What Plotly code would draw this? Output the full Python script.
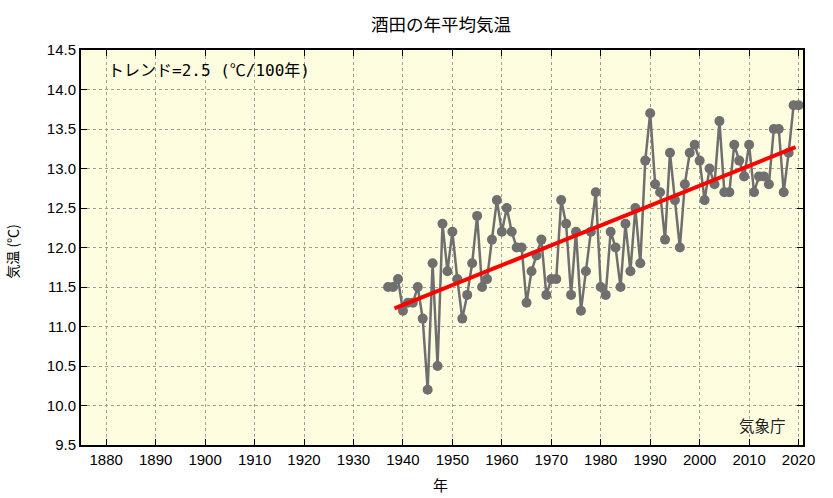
import plotly.graph_objects as go

years = list(range(1937, 2021))
temps = [11.5, 11.5, 11.6, 11.2, 11.3, 11.3, 11.5, 11.1, 10.2, 11.8,
         10.5, 12.3, 11.7, 12.2, 11.6, 11.1, 11.4, 11.8, 12.4, 11.5,
         11.6, 12.1, 12.6, 12.2, 12.5, 12.2, 12.0, 12.0, 11.3, 11.7,
         11.9, 12.1, 11.4, 11.6, 11.6, 12.6, 12.3, 11.4, 12.2, 11.2,
         11.7, 12.2, 12.7, 11.5, 11.4, 12.2, 12.0, 11.5, 12.3, 11.7,
         12.5, 11.8, 13.1, 13.7, 12.8, 12.7, 12.1, 13.2, 12.6, 12.0,
         12.8, 13.2, 13.3, 13.1, 12.6, 13.0, 12.8, 13.6, 12.7, 12.7,
         13.3, 13.1, 12.9, 13.3, 12.7, 12.9, 12.9, 12.8, 13.5, 13.5,
         12.7, 13.2, 13.8, 13.8]

trend_years = [1938.3, 2019.4]
trend_values = [11.23, 13.27]

x_ticks = list(range(1880, 2021, 10))
y_ticks = [9.5, 10.0, 10.5, 11.0, 11.5, 12.0, 12.5, 13.0, 13.5, 14.0, 14.5]
y_tick_labels = [f"{v:.1f}" for v in y_ticks]

title_text = "酒田の年平均気温"
trend_text = "トレンド=2.5 (℃/100年)"
source_text = "気象庁"
x_title = "年"
y_title = "気温 (℃)"

fig = go.Figure()
fig.add_trace(go.Scatter(
    x=years, y=temps, mode="lines+markers",
    line=dict(color="#6f6f6f", width=2.5),
    marker=dict(color="#6f6f6f", size=10),
    showlegend=False, hoverinfo="x+y"))
fig.add_trace(go.Scatter(
    x=trend_years, y=trend_values, mode="lines",
    line=dict(color="#ff0000", width=4),
    showlegend=False))

axis_common = dict(
    showline=True, linecolor="black", linewidth=2, mirror="allticks",
    ticks="inside", ticklen=6, tickcolor="black", tickwidth=1,
    showgrid=True, gridcolor="#a0a090", gridwidth=1, griddash="dot",
    zeroline=False, automargin=False,
    tickfont=dict(family="Liberation Sans", size=15, color="black"),
)

fig.update_xaxes(range=[1874.9, 2020.9], tickvals=x_ticks, **axis_common)
fig.update_yaxes(range=[9.5, 14.5], tickvals=y_ticks, ticktext=y_tick_labels, **axis_common)

cjk = "Noto Sans CJK JP"
fig.update_layout(
    width=833, height=498,
    margin=dict(l=81, r=30, t=50, b=53),
    paper_bgcolor="white",
    plot_bgcolor="#fffde0",
    annotations=[
        dict(text=title_text, xref="paper", yref="paper", x=0.4986, y=1.066,
             xanchor="center", yanchor="middle", showarrow=False,
             font=dict(family=cjk, size=17.5, color="black")),
        dict(text=trend_text, xref="paper", yref="paper", x=0.035, y=0.949,
             xanchor="left", yanchor="middle", showarrow=False,
             font=dict(family="DejaVu Sans Mono, " + cjk, size=16, color="black")),
        dict(text=source_text, xref="paper", yref="paper", x=0.979, y=0.051,
             xanchor="right", yanchor="middle", showarrow=False,
             font=dict(family=cjk, size=15.5, color="#222222")),
        dict(text=x_title, xref="paper", yref="paper", x=0.4986, y=-0.101,
             xanchor="center", yanchor="middle", showarrow=False,
             font=dict(family=cjk, size=15, color="black")),
        dict(text=y_title, xref="paper", yref="paper", x=-0.096, y=0.491,
             xanchor="center", yanchor="middle", showarrow=False, textangle=-90,
             font=dict(family=cjk, size=14, color="black")),
    ],
)

fig.write_html("out.html", config={"displayModeBar": False},
               post_script="document.body.style.margin='0';")
